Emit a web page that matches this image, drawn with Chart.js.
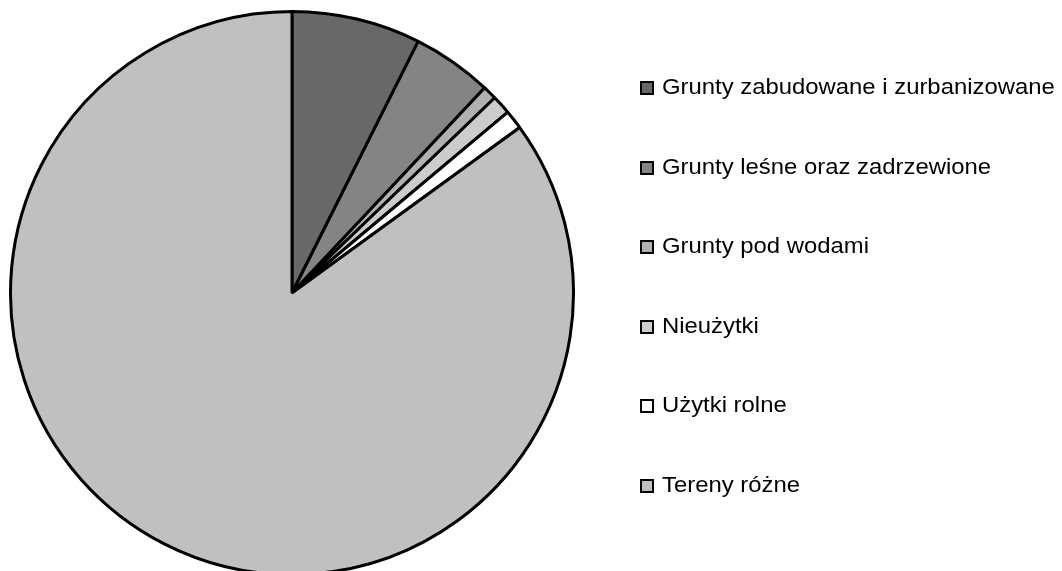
<!DOCTYPE html>
<html>
<head>
<meta charset="utf-8">
<script src="https://cdn.jsdelivr.net/npm/chart.js@4"></script>
<style>
	html, body {
		margin: 0;
		padding: 0;
		background: #fff;
		overflow: hidden;
	}
	#wrap {
		position: absolute;
		left: 0;
		top: 0;
		width: 1062px;
		height: 580px;
	}
	#legend {
		position: absolute;
		left: 0;
		top: 0;
		font-family: "Liberation Sans", Arial, sans-serif;
		font-size: 22px;
		color: #000;
	}
	.item {
		position: absolute;
		left: 640px;
		height: 24px;
		line-height: 24px;
		white-space: nowrap;
	}
	.box {
		position: absolute;
		left: 0;
		top: 5px;
		width: 10px;
		height: 10px;
		border: 2px solid #000;
	}
	.txt {
		position: absolute;
		left: 22px;
		top: -1px;
		transform: scaleX(1.085);
		transform-origin: left center;
	}
</style>
</head>
<body>
<div id="wrap">
	<canvas id="pie" width="1062" height="580"></canvas>
</div>
<div id="legend"></div>
<script>
const categories = [
	'Grunty zabudowane i zurbanizowane',
	'Grunty leśne oraz zadrzewione',
	'Grunty pod wodami',
	'Nieużytki',
	'Użytki rolne',
	'Tereny różne'
];
// percent share
const shares = [7.4, 4.6, 0.8, 1.1, 1.1, 85.0];
const sliceColors = ['#686868', '#848484', '#b0b0b0', '#cccccc', '#ffffff', '#c0c0c0'];

const ctx = document.getElementById('pie');
const chart = new Chart(ctx, {
	type: 'pie',
	data: {
		labels: categories,
		datasets: [{
			label: 'udział',
			data: shares,
			backgroundColor: sliceColors,
			borderColor: '#000',
			borderWidth: 3,
			hoverOffset: 0
		}]
	},
	options: {
		responsive: false,
		animation: false,
		events: [],
		layout: {
			padding: { left: 9, right: 487, top: 10, bottom: 4 }
		},
		plugins: {
			legend: { display: false },
			tooltip: { enabled: false }
		}
	}
});

// legend built from the chart's own labels and colours
const legend = document.getElementById('legend');
chart.data.labels.forEach(function(name, i) {
	const item = document.createElement('div');
	item.className = 'item';
	item.style.top = (76 + i * 79.5) + 'px';
	const box = document.createElement('span');
	box.className = 'box';
	box.style.background = chart.data.datasets[0].backgroundColor[i];
	const txt = document.createElement('span');
	txt.className = 'txt';
	txt.textContent = name;
	item.appendChild(box);
	item.appendChild(txt);
	legend.appendChild(item);
});
</script>
</body>
</html>
